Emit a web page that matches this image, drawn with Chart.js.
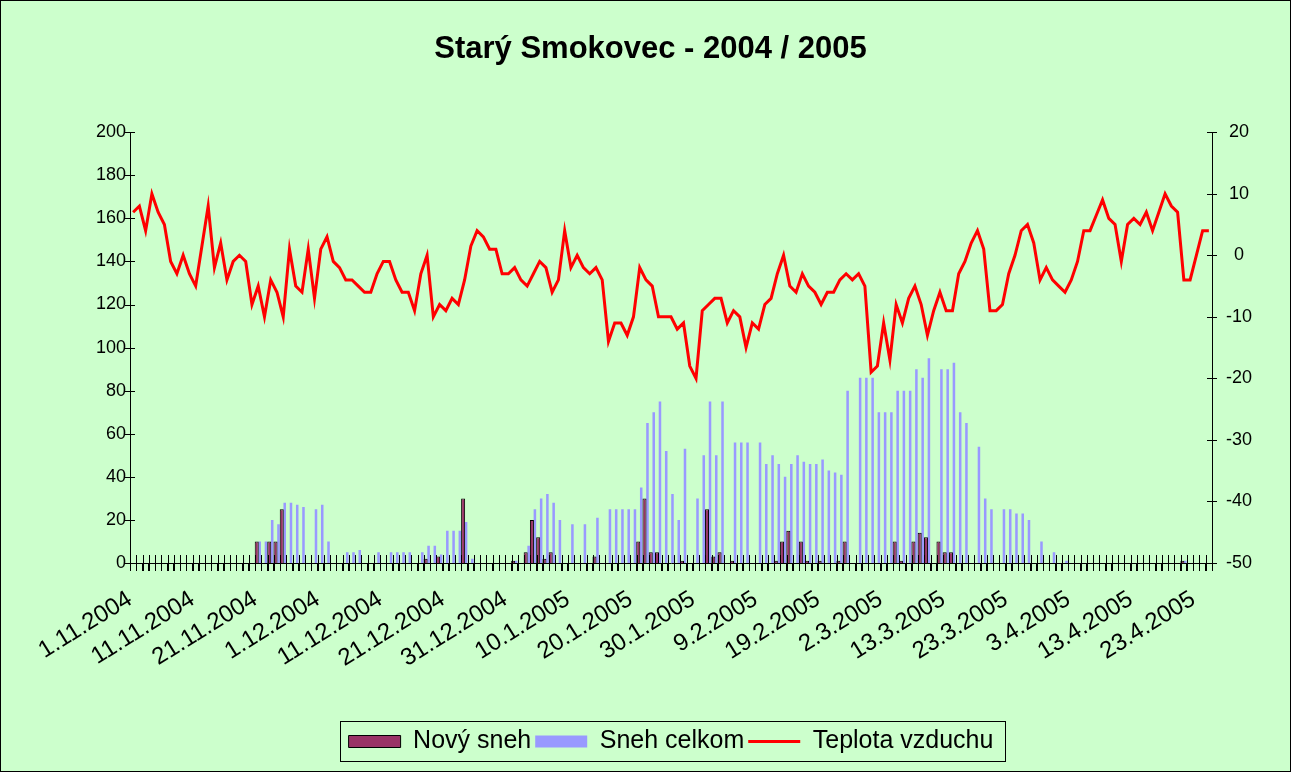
<!DOCTYPE html>
<html><head><meta charset="utf-8">
<script src="https://cdn.jsdelivr.net/npm/chart.js@4.4.1/dist/chart.umd.min.js"></script>
<style>html,body{margin:0;padding:0;background:#CCFFCC;overflow:hidden}#wrap{width:1291px;height:772px}</style>
</head><body><div id="wrap"><canvas id="c" width="1291" height="772"></canvas></div>
<script>
const tickLabels = ['1.11.2004','11.11.2004','21.11.2004','1.12.2004','11.12.2004','21.12.2004','31.12.2004','10.1.2005','20.1.2005','30.1.2005','9.2.2005','19.2.2005','2.3.2005','13.3.2005','23.3.2005','3.4.2005','13.4.2005','23.4.2005'];

const teplota = [
  7, 8, 4, 10, 7, 5, -1, -3, 0, -3,
  -5, 1.5, 8, -2, 2, -4, -1, 0, -1, -8,
  -5, -10, -4, -6, -10, 1, -5, -6, 1, -7,
  1, 3, -1, -2, -4, -4, -5, -6, -6, -3,
  -1, -1, -4, -6, -6, -9, -3, 0, -10, -8,
  -9, -7, -8, -4, 1.5, 4, 3, 1, 1, -3,
  -3, -2, -4, -5, -3, -1, -2, -6, -4, 4,
  -2, 0, -2, -3, -2, -4, -14, -11, -11, -13,
  -10, -2, -4, -5, -10, -10, -10, -12, -11, -18,
  -20, -9, -8, -7, -7, -11, -9, -10, -15, -11,
  -12, -8, -7, -3, 0, -5, -6, -3, -5, -6,
  -8, -6, -6, -4, -3, -4, -3, -5, -19, -18,
  -11, -17, -8, -11, -7, -5, -8, -13, -9, -6,
  -9, -9, -3, -1, 2, 4, 1, -9, -9, -8,
  -3, 0, 4, 5, 2, -4, -2, -4, -5, -6,
  -4, -1, 4, 4, 6.5, 9, 6, 5, -1, 5,
  6, 5, 7, 4, 7, 10, 8, 7, -4, -4,
  0, 4, 4
];

const novySneh = [
  0, 0, 0, 0, 0, 0, 0, 0, 0, 0,
  0, 0, 0, 0, 0, 0, 0, 0, 0, 0,
  10, 0, 10, 10, 25, 0, 0, 0, 0, 0,
  0, 0, 0, 0, 0, 0, 0, 0, 0, 0,
  0, 0, 0, 0, 0, 0, 0, 2, 0, 3,
  0, 0, 0, 30, 0, 0, 0, 0, 0, 0,
  0, 1, 0, 5, 20, 12, 2, 5, 0, 0,
  0, 0, 0, 0, 3, 0, 0, 0, 0, 0,
  0, 10, 30, 5, 5, 0, 0, 0, 1, 0,
  0, 0, 25, 3, 5, 0, 1, 0, 0, 0,
  0, 0, 0, 1, 10, 15, 0, 10, 1, 0,
  1, 0, 0, 1, 10, 0, 0, 0, 0, 0,
  0, 0, 10, 1, 0, 10, 14, 12, 0, 10,
  5, 5, 0, 0, 0, 0, 0, 0, 0, 0,
  0, 0, 0, 0, 0, 0, 0, 0, 0, 0,
  0, 0, 0, 0, 0, 0, 0, 0, 0, 0,
  0, 0, 0, 0, 0, 0, 0, 0, 1, 0,
  0, 0, 0
];

const snehCelkom = [
  0, 0, 0, 0, 0, 0, 0, 0, 0, 0,
  0, 0, 0, 0, 0, 0, 0, 0, 0, 0,
  10, 10, 20, 18, 28, 28, 27, 26, 0, 25,
  27, 10, 0, 0, 5, 5, 6, 0, 0, 5,
  0, 5, 5, 5, 5, 0, 5, 8, 8, 4,
  15, 15, 15, 19, 2, 0, 0, 0, 0, 0,
  0, 1, 0, 8, 25, 30, 32, 28, 20, 0,
  18, 0, 18, 0, 21, 0, 25, 25, 25, 25,
  25, 35, 65, 70, 75, 52, 32, 20, 53, 0,
  30, 50, 75, 50, 75, 0, 56, 56, 56, 0,
  56, 46, 50, 46, 40, 46, 50, 47, 46, 46,
  48, 43, 42, 41, 80, 0, 86, 86, 86, 70,
  70, 70, 80, 80, 80, 90, 86, 95, 0, 90,
  90, 93, 70, 65, 0, 54, 30, 25, 0, 25,
  25, 23, 23, 20, 0, 10, 0, 5, 0, 1,
  0, 0, 0, 0, 0, 0, 0, 0, 0, 0,
  0, 0, 0, 0, 0, 0, 0, 0, 1, 0,
  0, 0, 0
];

const categories = teplota.map((_, i) => (i % 10 === 0 ? tickLabels[i / 10] : ''));

const FONT = "'Liberation Sans', Arial, sans-serif";

const bgPlugin = {
  id: 'bg',
  beforeDraw(chart) {
    const ctx = chart.ctx;
    ctx.save();
    ctx.fillStyle = '#CCFFCC';
    ctx.fillRect(0, 0, chart.width, chart.height);
    ctx.strokeStyle = '#000';
    ctx.lineWidth = 1;
    ctx.strokeRect(0.5, 0.5, chart.width - 1, chart.height - 1);
    ctx.restore();
  }
};

const crossTicks = {
  id: 'crossTicks',
  afterDraw(chart) {
    const ctx = chart.ctx;
    const x = chart.scales.x, y = chart.scales.y, y2 = chart.scales.y2;
    ctx.save();
    ctx.strokeStyle = '#000';
    ctx.lineWidth = 1;
    ctx.beginPath();
    const step = x.getPixelForValue(1) - x.getPixelForValue(0);
    for (let i = 0; i <= categories.length; i++) {
      const px = Math.round(x.getPixelForValue(i) - step / 2) + 0.5;
      ctx.moveTo(px, x.top - 8);
      ctx.lineTo(px, x.top + 8);
    }
    y.ticks.forEach((t, i) => {
      const py = Math.round(y.getPixelForTick(i)) + 0.5;
      ctx.moveTo(y.right - 5, py); ctx.lineTo(y.right + 5, py);
    });
    y2.ticks.forEach((t, i) => {
      const py = Math.round(y2.getPixelForTick(i)) + 0.5;
      ctx.moveTo(y2.left - 5, py); ctx.lineTo(y2.left + 5, py);
    });
    ctx.stroke();
    // legend frame
    const boxes = chart.legend.legendHitBoxes;
    if (boxes && boxes.length) {
      let l = Infinity, r = -Infinity, t = Infinity, b = -Infinity;
      boxes.forEach(bx => {
        l = Math.min(l, bx.left); r = Math.max(r, bx.left + bx.width);
        t = Math.min(t, bx.top); b = Math.max(b, bx.top + bx.height);
      });
      ctx.strokeRect(Math.round(l - 9) + 0.5, Math.round(t - 8) + 0.5, Math.round(r - l + 20), Math.round(b - t + 15));
    }
    ctx.restore();
  }
};

new Chart(document.getElementById('c'), {
  type: 'bar',
  data: {
    labels: categories,
    datasets: [
      {
        type: 'bar', label: 'Nový sneh', data: novySneh, yAxisID: 'y', order: 1,
        backgroundColor: '#993366', borderColor: '#000000', borderWidth: 1,
        categoryPercentage: 0.95, barPercentage: 1.35, pointStyle: 'rect'
      },
      {
        type: 'bar', label: 'Sneh celkom', data: snehCelkom, yAxisID: 'y', order: 1,
        backgroundColor: '#9999FF', borderWidth: 0,
        categoryPercentage: 0.95, barPercentage: 0.85, pointStyle: 'rect'
      },
      {
        type: 'line', label: 'Teplota vzduchu', data: teplota, yAxisID: 'y2', order: 0,
        borderColor: '#FF0000', backgroundColor: '#FF0000', borderWidth: 3,
        pointRadius: 0, tension: 0, fill: false, pointStyle: 'line'
      }
    ]
  },
  options: {
    responsive: false,
    animation: false,
    layout: { padding: { left: 10, right: 0, top: 0, bottom: 8 } },
    plugins: {
      title: {
        display: true, text: 'Starý Smokovec - 2004 / 2005', color: '#000',
        font: { family: FONT, size: 31, weight: 'bold' },
        padding: { top: 31, bottom: 64 }
      },
      legend: {
        position: 'bottom', fullSize: false,
        labels: {
          usePointStyle: true, pointStyleWidth: 52, boxHeight: 12,
          color: '#000', font: { family: FONT, size: 25 }, padding: 4,
          sort: (a, b) => a.datasetIndex - b.datasetIndex
        }
      },
      tooltip: { enabled: false }
    },
    scales: {
      x: {
        type: 'category', offset: true,
        grid: { display: true, drawOnChartArea: false, offset: true, tickLength: 8, color: '#000' },
        border: { display: true, color: '#000' },
        ticks: { autoSkip: false, maxRotation: 32, minRotation: 32, color: '#000', font: { family: FONT, size: 24 }, padding: 14, labelOffset: -3 },
        afterFit(s) { s.height = 162; }
      },
      y: {
        position: 'left', min: 0, max: 200,
        ticks: { stepSize: 20, color: '#000', font: { family: FONT, size: 18 }, padding: 4 },
        grid: { display: false, drawTicks: false },
        border: { display: true, color: '#000' },
        afterFit(s) { s.width = 120; }
      },
      y2: {
        position: 'right', min: -50, max: 20,
        ticks: { stepSize: 10, color: '#000', font: { family: FONT, size: 18 }, padding: 14, crossAlign: 'center' },
        grid: { display: false, drawTicks: false },
        border: { display: true, color: '#000' },
        afterFit(s) { s.width = 79; }
      }
    }
  },
  plugins: [bgPlugin, crossTicks]
});
</script>
</body></html>
